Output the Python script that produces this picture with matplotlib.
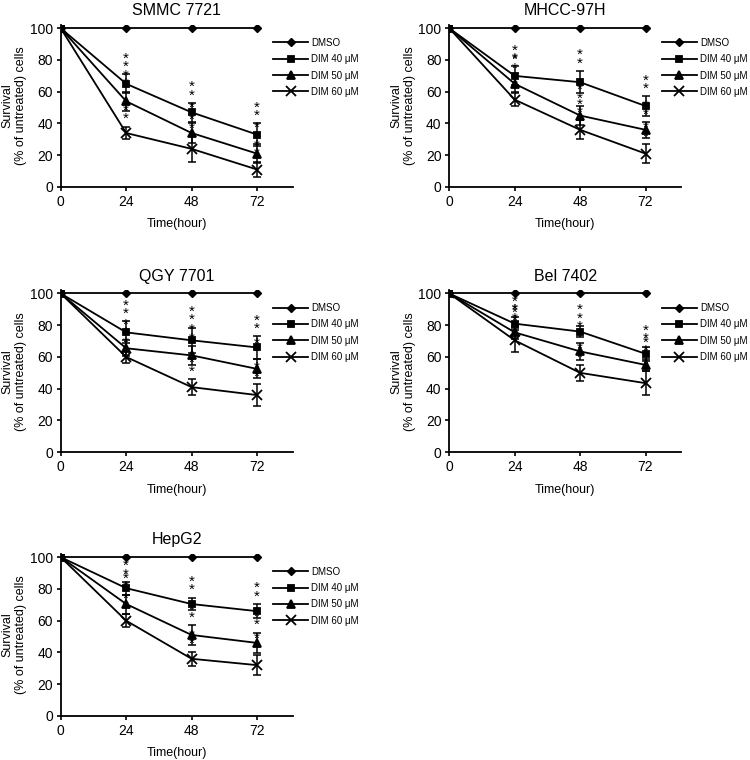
import numpy as np
import matplotlib
matplotlib.use("Agg")
import matplotlib.pyplot as plt

plt.rcParams['font.family'] = ['Liberation Sans', 'DejaVu Sans']

times = [0, 24, 48, 72]
dmso = [100, 100, 100, 100]
labels = ["DMSO", "DIM 40 \u03bcM", "DIM 50 \u03bcM", "DIM 60 \u03bcM"]
titles = ["SMMC 7721", "MHCC-97H", "QGY 7701", "Bel 7402", "HepG2"]

# survival means (% untreated), rows = DIM 40, 50, 60 uM
smmc_mean = [[100, 65, 47, 33], [100, 54, 34, 21], [100, 34, 24, 11]]
smmc_err = [[0, 6, 6, 7], [0, 6, 6, 6], [0, 4, 8, 5]]

mhcc_mean = [[100, 70, 66, 51], [100, 65, 45, 36], [100, 55, 36, 21]]
mhcc_err = [[0, 6, 7, 6], [0, 5, 6, 5], [0, 4, 6, 6]]

qgy_mean = [[100, 75.5, 70.5, 66], [100, 65.5, 61, 52.5], [100, 60, 41, 36]]
qgy_err = [[0, 7, 8, 7], [0, 5, 6, 6], [0, 4, 5, 7]]

bel_mean = [[100, 81, 76, 62], [100, 75.5, 63.5, 55], [100, 70.5, 50, 43.5]]
bel_err = [[0, 4, 3.5, 4.5], [0, 4, 5.5, 4], [0, 7.5, 5, 7.5]]

hep_mean = [[100, 80.5, 70.5, 66], [100, 70.5, 51, 46], [100, 60, 36, 32]]
hep_err = [[0, 4, 4, 4.5], [0, 6, 6, 6.5], [0, 4, 4.5, 6.5]]

means = [smmc_mean, mhcc_mean, qgy_mean, bel_mean, hep_mean]
errs = [smmc_err, mhcc_err, qgy_err, bel_err, hep_err]

markers = ['s', '^', 'x']
msizes = [5, 6, 6.5]

fig = plt.figure(figsize=(7.5, 7.6), dpi=100)

# axes boxes in figure fraction
lefts = [0.081, 0.599, 0.081, 0.599, 0.081]
bottoms = [0.754, 0.754, 0.405, 0.405, 0.058]
w, h = 0.309, 0.213

for i in range(5):
    ax = fig.add_axes([lefts[i], bottoms[i], w, h])
    ax.plot(times, dmso, '-', color='k', marker='D', ms=4, lw=1.3, label=labels[0])
    for j in range(3):
        m = np.array(means[i][j])
        e = np.array(errs[i][j])
        ax.errorbar(times, m, yerr=e, fmt='none', ecolor='k', capsize=3,
                    elinewidth=1.1, capthick=1.1)
        ax.plot(times, m, '-', color='k', marker=markers[j], ms=msizes[j],
                mew=1.3, lw=1.3, label=labels[j + 1])
        # significance stars above each bar
        for t, mv, ev in zip(times[1:], m[1:], e[1:]):
            ax.text(t, mv + ev + 0.3, "*\n*", ha='center', va='bottom',
                    fontsize=11, linespacing=0.5)
    ax.set_xlim(0, 85)
    ax.set_ylim(0, 102)
    ax.set_xticks(times)
    ax.set_yticks([0, 20, 40, 60, 80, 100])
    ax.spines['top'].set_visible(False)
    ax.spines['right'].set_visible(False)
    ax.tick_params(labelsize=10, length=3, width=1.2, pad=2.5)
    for s in ['left', 'bottom']:
        ax.spines[s].set_linewidth(1.3)
    ax.set_title(titles[i], fontsize=11.5, pad=7)
    ax.set_xlabel("Time(hour)", fontsize=9, labelpad=7)
    ax.set_ylabel("Survival\n(% of untreated) cells", fontsize=9, labelpad=2)
    ax.legend(loc='upper left', bbox_to_anchor=(0.88, 0.975), frameon=False,
              fontsize=7, handlelength=3.6, handletextpad=0.3, labelspacing=0.65)

fig.savefig("out.png", dpi=100)
